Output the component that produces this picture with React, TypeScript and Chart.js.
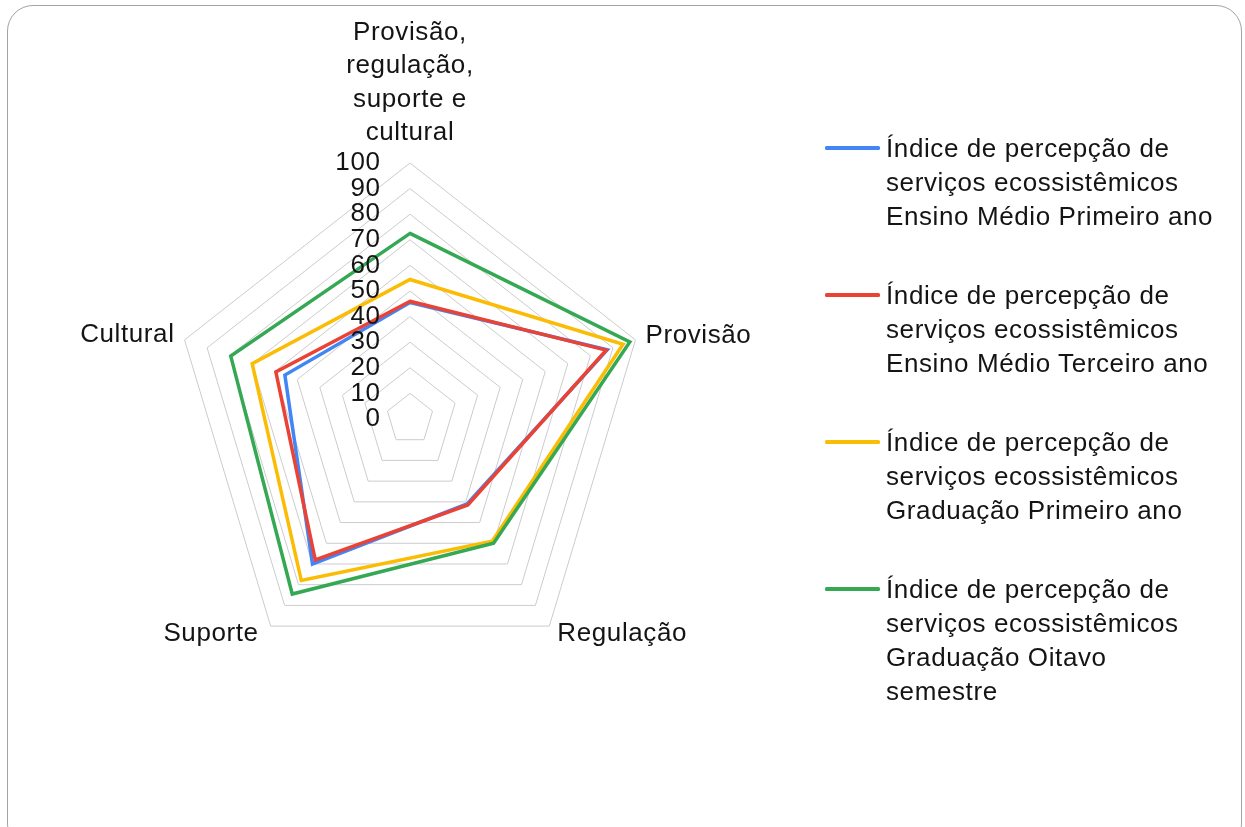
import React, { useEffect, useRef } from 'react';
import { Chart, registerables, RadialLinearScale } from 'chart.js';

// ---------- data ----------
const axisLabels: string[][] = [
  ['Provisão,', 'regulação,', 'suporte e', 'cultural'],
  ['Provisão'],
  ['Regulação'],
  ['Suporte'],
  ['Cultural'],
];

const seriesNames: string[][] = [
  ['Índice de percepção de', 'serviços ecossistêmicos', 'Ensino Médio Primeiro ano'],
  ['Índice de percepção de', 'serviços ecossistêmicos', 'Ensino Médio Terceiro ano'],
  ['Índice de percepção de', 'serviços ecossistêmicos', 'Graduação Primeiro ano'],
  ['Índice de percepção de', 'serviços ecossistêmicos', 'Graduação Oitavo', 'semestre'],
];

const ensinoMedioPrimeiro = [45.5, 87.5, 41, 70, 55.5];
const ensinoMedioTerceiro = [46, 87, 41.5, 68, 59.5];
const graduacaoPrimeiro = [54.5, 94.5, 59, 78, 70];
const graduacaoOitavo = [72.5, 97.5, 60, 84.5, 79.5];

const seriesValues = [ensinoMedioPrimeiro, ensinoMedioTerceiro, graduacaoPrimeiro, graduacaoOitavo];
const seriesColors = ['#4285F4', '#EA4335', '#FBBC04', '#34A853'];

const scaleMin = 0;
const scaleMax = 100;
const scaleStep = 10;

// ---------- style / layout ----------
const W = 1245;
const H = 827;
const FONT = '"Liberation Sans", Arial, Helvetica, sans-serif';
const FONT_SIZE = 26;
const LETTER_SPACING = '0.6px';
const TEXT_COLOR = '#141414';
const X_ASPECT = 0.926; // horizontal compression of the radar web
const AREA = { left: 154, top: 163, size: 512 };
const LABEL_LINE_HEIGHT = 33.4;
const LABEL_OFFSETS = [
  { dx: 0, dy: -30, align: 'center' },
  { dx: 10, dy: -4, align: 'left' },
  { dx: 8, dy: 8, align: 'left' },
  { dx: -12, dy: 8, align: 'right' },
  { dx: -10, dy: -5, align: 'right' },
];
const TICK_DX = -29.5;

class EllipticRadialScale extends RadialLinearScale {
  static id = 'ellipticRadial';
  static defaults = RadialLinearScale.defaults;
  static defaultRoutes = (RadialLinearScale as any).defaultRoutes;
  static descriptors = (RadialLinearScale as any).descriptors;
  getPointPosition(index: number, distanceFromCenter: number, additionalAngle = 0) {
    const p = super.getPointPosition(index, distanceFromCenter, additionalAngle);
    return { x: this.xCenter + (p.x - this.xCenter) * X_ASPECT, y: p.y, angle: p.angle };
  }
}

Chart.register(...registerables, EllipticRadialScale);

const labelPlugin = {
  id: 'radarTextLabels',
  afterDraw(chart: any) {
    const scale = chart.scales.r;
    const ctx = chart.ctx as CanvasRenderingContext2D;
    ctx.save();
    ctx.font = `${FONT_SIZE}px ${FONT}`;
    (ctx as any).letterSpacing = LETTER_SPACING;
    ctx.fillStyle = TEXT_COLOR;
    ctx.textBaseline = 'middle';
    // tick labels
    ctx.textAlign = 'right';
    scale.ticks.forEach((t: any) => {
      const d = scale.getDistanceFromCenterForValue(t.value);
      ctx.fillText(String(t.value), scale.xCenter + TICK_DX, scale.yCenter - d);
    });
    // axis labels
    axisLabels.forEach((lines, i) => {
      const p = scale.getPointPosition(i, scale.drawingArea);
      const o = LABEL_OFFSETS[i];
      ctx.textAlign = o.align as CanvasTextAlign;
      lines.forEach((line, j) => {
        const y = p.y + o.dy - (lines.length - 1 - j) * LABEL_LINE_HEIGHT;
        ctx.fillText(line, p.x + o.dx, y);
      });
    });
    ctx.restore();
  },
};

export default function App() {
  const ref = useRef<HTMLCanvasElement>(null);

  useEffect(() => {
    if (!ref.current) return;
    const chart = new Chart(ref.current, {
      type: 'radar',
      data: {
        labels: axisLabels.map((l) => l.join(' ')),
        datasets: seriesValues.map((vals, i) => ({
          label: seriesNames[i].join(' '),
          data: vals,
          borderColor: seriesColors[i],
          backgroundColor: 'rgba(0,0,0,0)',
          borderWidth: 3.5,
          pointRadius: 0,
          pointHoverRadius: 0,
          fill: false,
          order: seriesValues.length - 1 - i,
        })),
      },
      options: {
        responsive: false,
        animation: false,
        devicePixelRatio: 1,
        layout: {
          padding: {
            left: AREA.left,
            top: AREA.top,
            right: W - AREA.left - AREA.size,
            bottom: H - AREA.top - AREA.size,
          },
        },
        plugins: {
          legend: { display: false },
          tooltip: { enabled: false },
        },
        scales: {
          r: {
            type: 'ellipticRadial' as any,
            min: scaleMin,
            max: scaleMax,
            ticks: { stepSize: scaleStep, display: false },
            grid: { color: '#cccccc', lineWidth: 1 },
            angleLines: { display: false },
            pointLabels: { display: false },
          },
        },
      } as any,
      plugins: [labelPlugin],
    });
    return () => chart.destroy();
  }, []);

  return (
    <div style={{ position: 'fixed', left: 0, top: 0, width: W, height: H, overflow: 'hidden', background: '#ffffff' }}>
      <div
        style={{
          position: 'absolute',
          left: 6.5,
          top: 5.3,
          width: 1235,
          height: 845,
          border: '1.5px solid #a3a3a3',
          borderRadius: 26,
          boxSizing: 'border-box',
        }}
      />
      <canvas ref={ref} width={W} height={H} style={{ position: 'absolute', left: 0, top: 0 }} />
      <div
        style={{
          position: 'absolute',
          left: 825,
          top: 131,
          fontFamily: FONT,
          fontSize: FONT_SIZE,
          letterSpacing: LETTER_SPACING,
          lineHeight: '34px',
          color: TEXT_COLOR,
        }}
      >
        {seriesNames.map((lines, i) => (
          <div key={i} style={{ display: 'flex', alignItems: 'flex-start', marginBottom: 45 }}>
            <div
              style={{
                width: 55,
                height: 3.5,
                borderRadius: 1.5,
                background: seriesColors[i],
                marginTop: 15.25,
                marginRight: 6,
                flex: 'none',
              }}
            />
            <div>
              {lines.map((l, j) => (
                <div key={j} style={{ whiteSpace: 'nowrap' }}>
                  {l}
                </div>
              ))}
            </div>
          </div>
        ))}
      </div>
    </div>
  );
}
